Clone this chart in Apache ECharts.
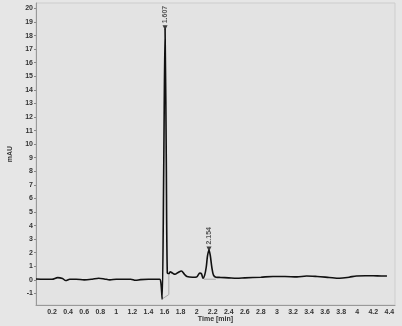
<!DOCTYPE html>
<html><head><meta charset="utf-8">
<script src="https://cdn.jsdelivr.net/npm/echarts@6/dist/echarts.min.js"></script>
<style>html,body{margin:0;padding:0;background:#e6e6e6;}#c{width:402px;height:326px;}</style>
</head><body><div id="c"></div>
<script>
// chromatogram trace: time [min] and signal [mAU]
var times = [0.0,0.1,0.2,0.27,0.33,0.37,0.42,0.5,0.6,0.7,0.78,0.85,0.92,1.0,1.1,1.18,1.24,1.3,1.4,1.48,1.54,1.555,1.571,1.59,1.607,1.622,1.635,1.655,1.67,1.7,1.73,1.77,1.81,1.85,1.88,1.95,2.0,2.04,2.06,2.08,2.1,2.12,2.135,2.154,2.17,2.19,2.21,2.24,2.3,2.4,2.5,2.6,2.8,2.95,3.1,3.25,3.37,3.5,3.65,3.78,3.9,3.99,4.1,4.2,4.3,4.37];
var mAU   = [0.07,0.05,0.05,0.17,0.1,-0.05,0.05,0.05,0.0,0.05,0.12,0.07,0.0,0.05,0.05,0.05,-0.03,0.02,0.05,0.05,0.05,-0.2,-1.42,8.0,18.5,9.0,0.5,0.45,0.6,0.5,0.42,0.55,0.66,0.4,0.25,0.2,0.22,0.5,0.45,0.12,0.35,0.95,1.75,2.2,1.8,0.9,0.35,0.2,0.18,0.15,0.12,0.15,0.2,0.25,0.25,0.22,0.29,0.25,0.18,0.12,0.2,0.29,0.3,0.3,0.29,0.29];
// integrated peaks
var peakTimes = [1.607, 2.154];
var peakHeights = [18.5, 2.2];
var peakLabels = ['1.607', '2.154'];
// integration baselines
var base1T = [1.567, 1.654, 1.654];
var base1V = [-1.42, -1.08, 0.35];
var base2T = [2.09, 2.24];
var base2V = [0.05, 0.05];
// tick labels
var yTicks = [-1,0,1,2,3,4,5,6,7,8,9,10,11,12,13,14,15,16,17,18,19,20];
var xTicks = [0.2,0.4,0.6,0.8,1,1.2,1.4,1.6,1.8,2,2.2,2.4,2.6,2.8,3,3.2,3.4,3.6,3.8,4,4.2,4.4];

function zip(a,b){return a.map(function(v,i){return [v,b[i]];});}
var font = {fontFamily:'Liberation Sans, Arial, sans-serif', fontSize:7, fontWeight:'bold', color:'#333'};
var chart = echarts.init(document.getElementById('c'));
chart.setOption({
  backgroundColor:'#e6e6e6',
  animation:false,
  grid:{left:36, top:3, right:7, bottom:21, containLabel:false, outerBoundsMode:'none', show:true, backgroundColor:'#e3e3e3', borderColor:'#cdcdcd', borderWidth:1},
  xAxis:{type:'value', min:0, max:4.47,
    name:'Time [min]', nameLocation:'middle', nameGap:11, nameMoveOverlap:false,
    nameTextStyle:font,
    axisLine:{show:true, onZero:false, lineStyle:{color:'#999', width:1}},
    axisTick:{show:false},
    splitLine:{show:false},
    axisLabel:Object.assign({customValues:xTicks, margin:4, formatter:function(v){return String(+v.toFixed(1));}}, font)
  },
  yAxis:{type:'value', min:-1.85, max:20.4,
    name:'mAU', nameLocation:'middle', nameGap:22, nameRotate:90, nameMoveOverlap:false,
    nameTextStyle:font,
    axisLine:{show:true, onZero:false, lineStyle:{color:'#999', width:1}},
    axisTick:{show:true, customValues:yTicks, length:2, lineStyle:{color:'#888'}},
    splitLine:{show:false},
    axisLabel:Object.assign({customValues:yTicks, margin:3}, font)
  },
  series:[
    {type:'line', data:zip(base1T,base1V), symbol:'none', lineStyle:{color:'#a8a8a8', width:1}, z:2},
    {type:'line', data:zip(base2T,base2V), symbol:'none', lineStyle:{color:'#a8a8a8', width:1}, z:2},
    {type:'line', data:zip(times,mAU), symbol:'none', smooth:0.3, lineStyle:{color:'#111', width:1.6}, z:3},
    {type:'scatter', data:zip(peakTimes,peakHeights), symbol:'triangle', symbolRotate:180, symbolSize:5, symbolOffset:[0,-1],
      itemStyle:{color:'#111'}, z:4,
      label:{show:true, position:'top', rotate:90, distance:2, align:'left', verticalAlign:'middle',
        formatter:function(p){return peakLabels[p.dataIndex];},
        fontFamily:'Liberation Sans, Arial, sans-serif', fontSize:7, fontWeight:'bold', color:'#333'}
    }
  ]
});
</script></body></html>
